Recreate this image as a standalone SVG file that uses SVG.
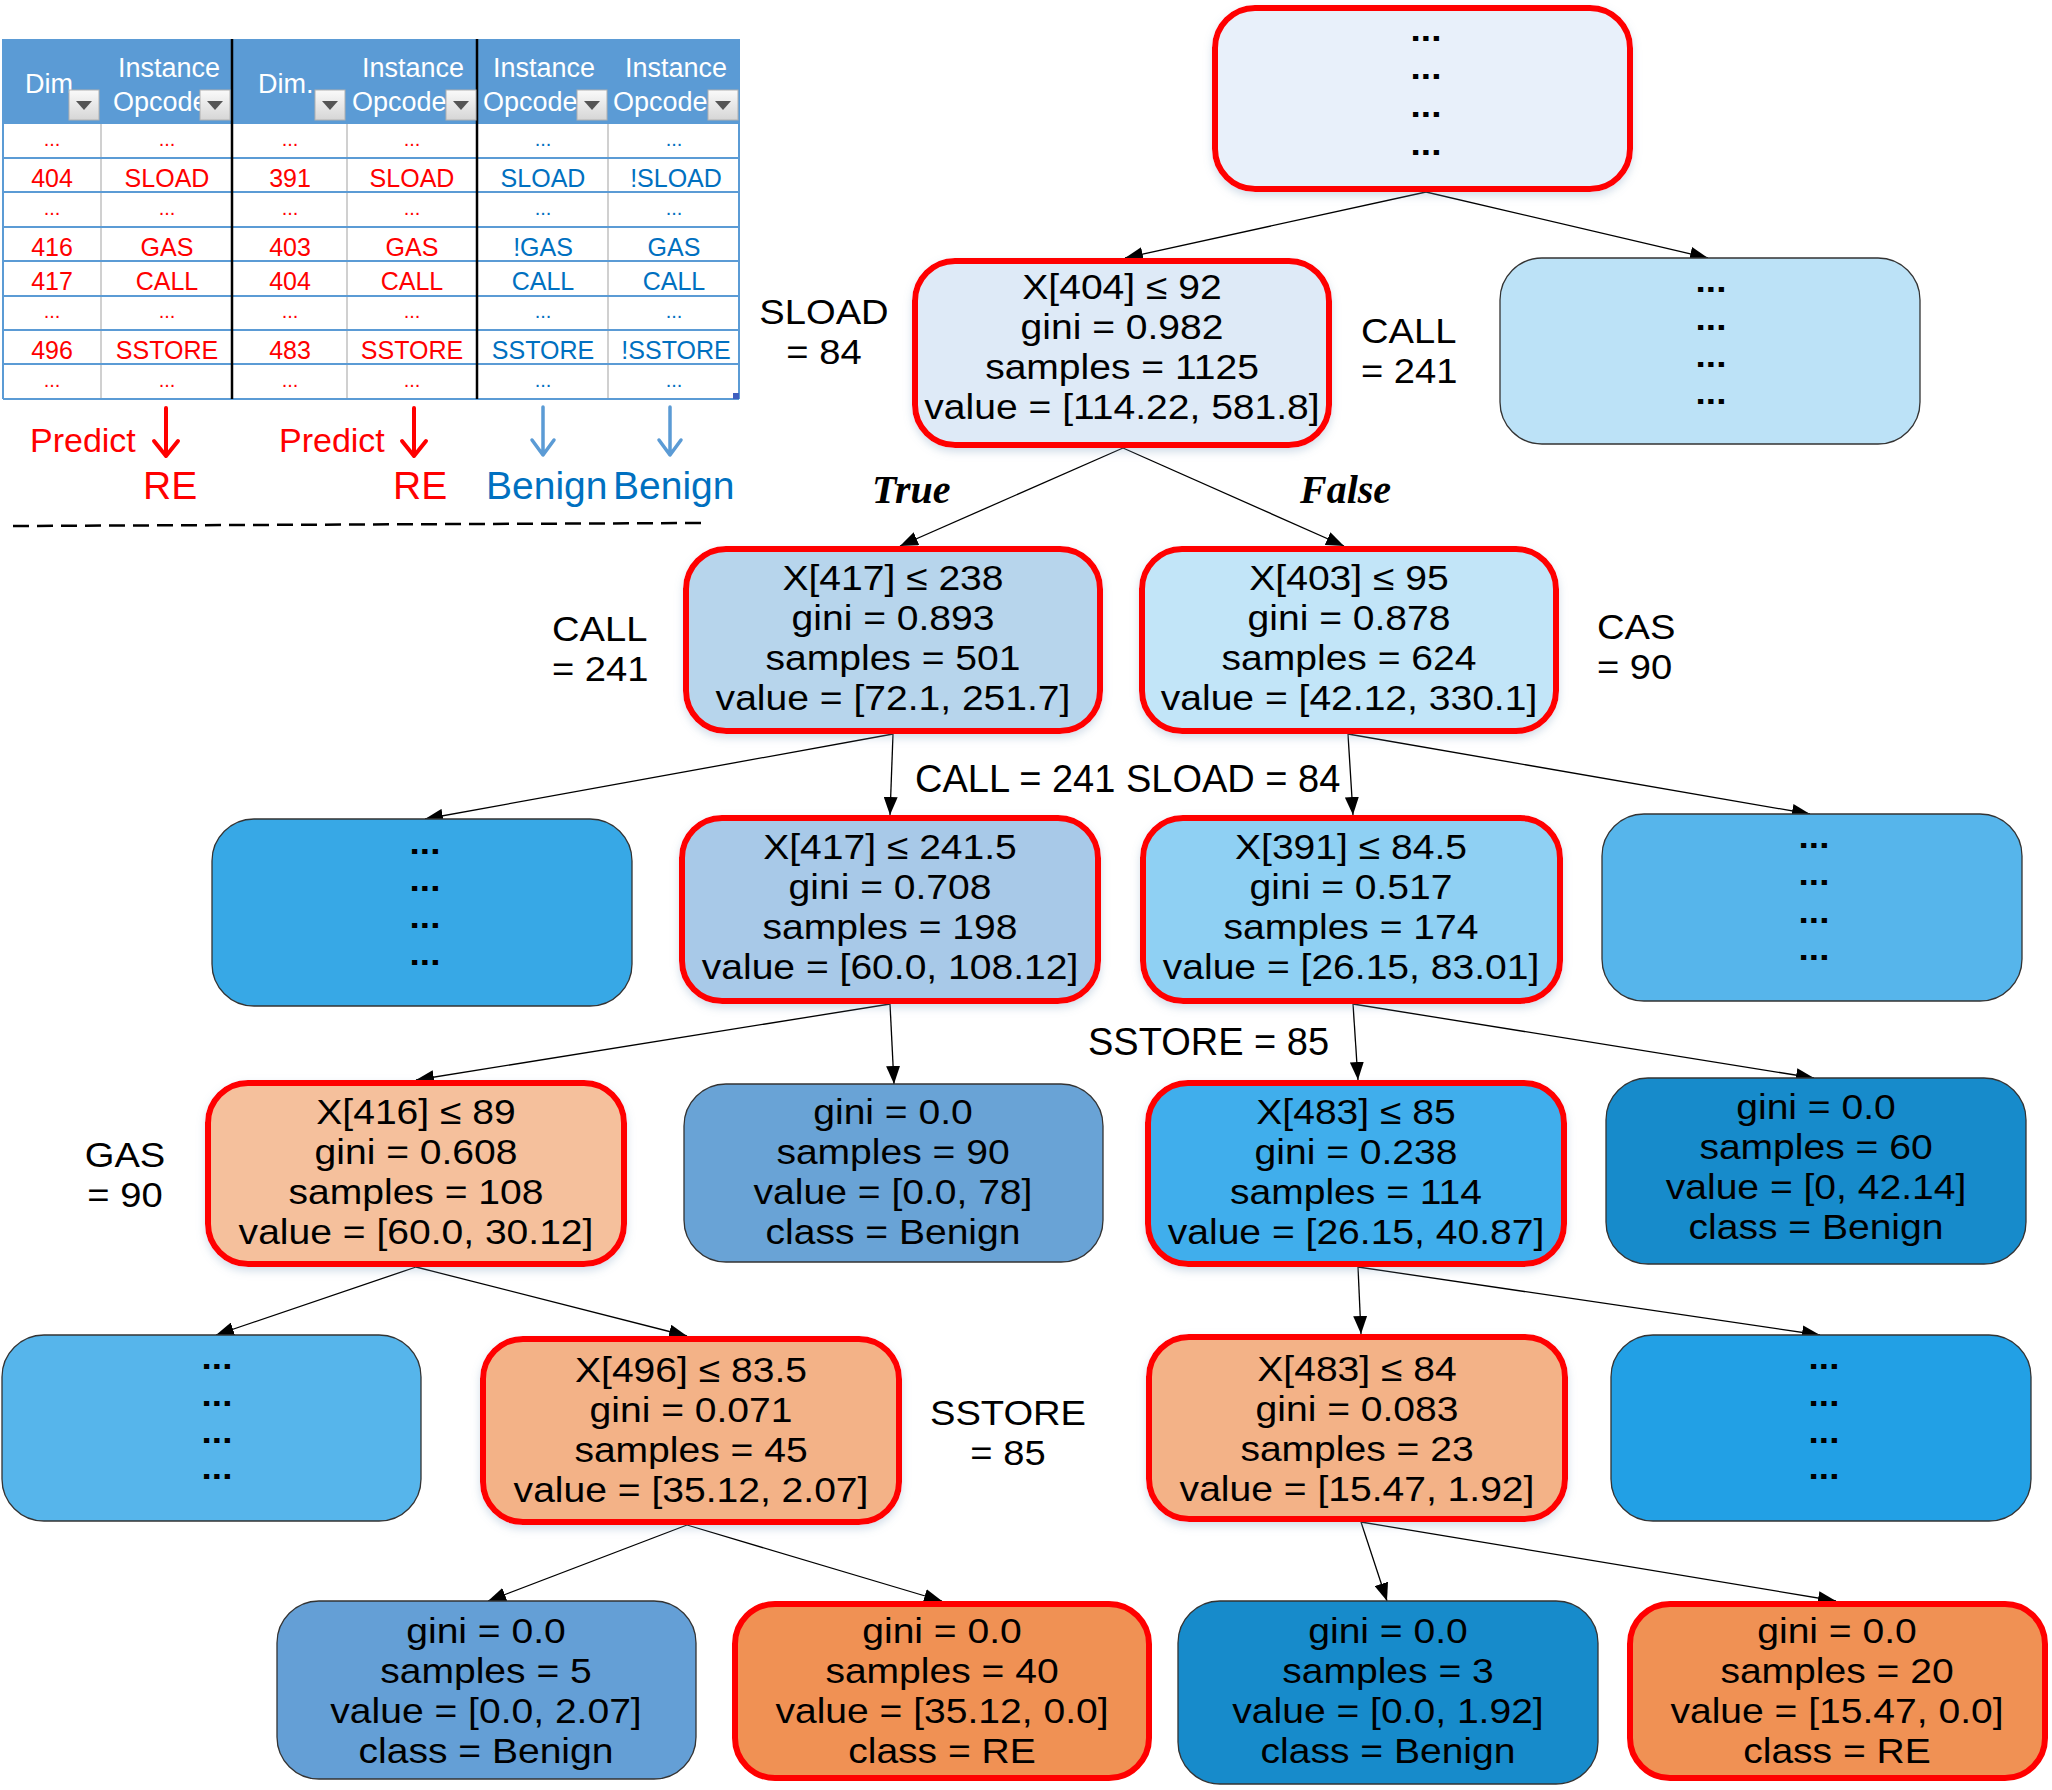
<svg xmlns="http://www.w3.org/2000/svg" width="2052" height="1790" viewBox="0 0 2052 1790">
<style>
.t{font-family:"Liberation Sans",Arial,sans-serif;font-size:35.5px;text-anchor:middle;fill:#000}
.d{font-family:"Liberation Sans",Arial,sans-serif;font-size:33px;font-weight:bold;text-anchor:middle;fill:#000}
.lb{font-family:"Liberation Sans",Arial,sans-serif;font-size:38px;fill:#000}
.l2{font-family:"Liberation Sans",Arial,sans-serif;font-size:35px;fill:#000}
.l2m{font-family:"Liberation Sans",Arial,sans-serif;font-size:35px;fill:#000;text-anchor:middle}
.tf{font-family:"Liberation Serif","Times New Roman",serif;font-size:40px;font-weight:bold;font-style:italic;fill:#000}
.nr{stroke:#FF0000;stroke-width:6}
.ng{stroke:#333;stroke-width:1.3}
.e{stroke:#000;stroke-width:1.3;fill:none;marker-end:url(#ah)}
.th{font-family:"Liberation Sans",Arial,sans-serif;font-size:27px;fill:#fff}
.tc{font-family:"Liberation Sans",Arial,sans-serif;font-size:25px;text-anchor:middle}
.tdot{font-family:"Liberation Sans",Arial,sans-serif;font-size:20px;text-anchor:middle}
.red{fill:#FF0000}
.blue{fill:#0070C0}
.hl{stroke:#5B9BD5;stroke-width:2}
.vg{stroke:#D0D0D0;stroke-width:2}
.vb{stroke:#000;stroke-width:2.5}
.pr{font-family:"Liberation Sans",Arial,sans-serif;font-size:34px;fill:#FF0000}
.big{font-family:"Liberation Sans",Arial,sans-serif;font-size:39px}
</style>
<defs>
<marker id="ah" markerUnits="userSpaceOnUse" markerWidth="20" markerHeight="14" refX="18" refY="7" orient="auto">
<path d="M0,0 L18,7 L0,14 z" fill="#000"/>
</marker>
<linearGradient id="btn" x1="0" y1="0" x2="0" y2="1">
<stop offset="0" stop-color="#FAFAFA"/>
<stop offset="1" stop-color="#D6D6D6"/>
</linearGradient>
<filter id="sh" x="-10%" y="-10%" width="120%" height="125%">
<feDropShadow dx="0" dy="4" stdDeviation="4" flood-color="#7F9FC0" flood-opacity="0.35"/>
</filter>
</defs>

<g id="table">
<rect x="3" y="39" width="736" height="84" fill="#5B9BD5"/>
<rect x="3" y="123" width="736" height="276" fill="#fff"/>
<g>
<line class="vg" x1="101" y1="123" x2="101" y2="399"/>
<line class="vg" x1="347" y1="123" x2="347" y2="399"/>
<line class="vg" x1="608" y1="123" x2="608" y2="399"/>
<line class="hl" x1="3" y1="123" x2="739" y2="123"/>
<line class="hl" x1="3" y1="158" x2="739" y2="158"/>
<line class="hl" x1="3" y1="192" x2="739" y2="192"/>
<line class="hl" x1="3" y1="227" x2="739" y2="227"/>
<line class="hl" x1="3" y1="261" x2="739" y2="261"/>
<line class="hl" x1="3" y1="296" x2="739" y2="296"/>
<line class="hl" x1="3" y1="330" x2="739" y2="330"/>
<line class="hl" x1="3" y1="364" x2="739" y2="364"/>
<line class="hl" x1="3" y1="399" x2="739" y2="399"/>
<line class="hl" x1="3" y1="39" x2="3" y2="399"/>
<line class="hl" x1="739" y1="39" x2="739" y2="399"/>
<line class="vb" x1="232" y1="39" x2="232" y2="399"/>
<line class="vb" x1="477" y1="39" x2="477" y2="399"/>
<rect x="733" y="393" width="6" height="6" fill="#3F5FBF"/>
</g>
<g>
<text class="th" x="25" y="93">Dim.</text>
<text class="th"><tspan x="118" y="77">Instance</tspan><tspan x="113" y="111">Opcode</tspan></text>
<text class="th" x="258" y="93">Dim.</text>
<text class="th"><tspan x="362" y="77">Instance</tspan><tspan x="352" y="111">Opcode</tspan></text>
<text class="th"><tspan x="493" y="77">Instance</tspan><tspan x="483" y="111">Opcode</tspan></text>
<text class="th"><tspan x="625" y="77">Instance</tspan><tspan x="613" y="111">Opcode</tspan></text>
</g>
<g>
<rect x="69" y="90" width="30" height="30" fill="url(#btn)" stroke="#B0B0B0" stroke-width="1"/>
<path d="M76,101 L92,101 L84,110 z" fill="#555"/>
<rect x="200" y="90" width="30" height="30" fill="url(#btn)" stroke="#B0B0B0" stroke-width="1"/>
<path d="M207,101 L223,101 L215,110 z" fill="#555"/>
<rect x="315" y="90" width="30" height="30" fill="url(#btn)" stroke="#B0B0B0" stroke-width="1"/>
<path d="M322,101 L338,101 L330,110 z" fill="#555"/>
<rect x="446" y="90" width="30" height="30" fill="url(#btn)" stroke="#B0B0B0" stroke-width="1"/>
<path d="M453,101 L469,101 L461,110 z" fill="#555"/>
<rect x="577" y="90" width="30" height="30" fill="url(#btn)" stroke="#B0B0B0" stroke-width="1"/>
<path d="M584,101 L600,101 L592,110 z" fill="#555"/>
<rect x="708" y="90" width="30" height="30" fill="url(#btn)" stroke="#B0B0B0" stroke-width="1"/>
<path d="M715,101 L731,101 L723,110 z" fill="#555"/>
</g>
<g class="red">
<text class="tdot" x="52" y="146">...</text><text class="tdot" x="167" y="146">...</text><text class="tdot" x="290" y="146">...</text><text class="tdot" x="412" y="146">...</text>
<text class="tc" x="52" y="187">404</text><text class="tc" x="167" y="187">SLOAD</text><text class="tc" x="290" y="187">391</text><text class="tc" x="412" y="187">SLOAD</text>
<text class="tdot" x="52" y="215">...</text><text class="tdot" x="167" y="215">...</text><text class="tdot" x="290" y="215">...</text><text class="tdot" x="412" y="215">...</text>
<text class="tc" x="52" y="256">416</text><text class="tc" x="167" y="256">GAS</text><text class="tc" x="290" y="256">403</text><text class="tc" x="412" y="256">GAS</text>
<text class="tc" x="52" y="290">417</text><text class="tc" x="167" y="290">CALL</text><text class="tc" x="290" y="290">404</text><text class="tc" x="412" y="290">CALL</text>
<text class="tdot" x="52" y="318">...</text><text class="tdot" x="167" y="318">...</text><text class="tdot" x="290" y="318">...</text><text class="tdot" x="412" y="318">...</text>
<text class="tc" x="52" y="359">496</text><text class="tc" x="167" y="359">SSTORE</text><text class="tc" x="290" y="359">483</text><text class="tc" x="412" y="359">SSTORE</text>
<text class="tdot" x="52" y="387">...</text><text class="tdot" x="167" y="387">...</text><text class="tdot" x="290" y="387">...</text><text class="tdot" x="412" y="387">...</text>
</g>
<g class="blue">
<text class="tdot" x="543" y="146">...</text><text class="tdot" x="674" y="146">...</text>
<text class="tc" x="543" y="187">SLOAD</text><text class="tc" x="676" y="187">!SLOAD</text>
<text class="tdot" x="543" y="215">...</text><text class="tdot" x="674" y="215">...</text>
<text class="tc" x="543" y="256">!GAS</text><text class="tc" x="674" y="256">GAS</text>
<text class="tc" x="543" y="290">CALL</text><text class="tc" x="674" y="290">CALL</text>
<text class="tdot" x="543" y="318">...</text><text class="tdot" x="674" y="318">...</text>
<text class="tc" x="543" y="359">SSTORE</text><text class="tc" x="676" y="359">!SSTORE</text>
<text class="tdot" x="543" y="387">...</text><text class="tdot" x="674" y="387">...</text>
</g>
</g>

<g id="predictions">
<text class="pr" x="30" y="452">Predict</text>
<text class="pr" x="279" y="452">Predict</text>
<g fill="none" stroke-linecap="round" stroke-linejoin="round">
<path d="M166,408 L166,456 M154,441 L166,456 L178,441" stroke="#FF0000" stroke-width="4"/>
<path d="M414,408 L414,456 M402,441 L414,456 L426,441" stroke="#FF0000" stroke-width="4"/>
<path d="M543,407 L543,455 M532,440 L543,455 L554,440" stroke="#5B9BD5" stroke-width="3.5"/>
<path d="M670,407 L670,455 M659,440 L670,455 L681,440" stroke="#5B9BD5" stroke-width="3.5"/>
</g>
<text class="big red" x="143" y="499">RE</text>
<text class="big red" x="393" y="499">RE</text>
<text class="big blue" x="486" y="499">Benign</text>
<text class="big blue" x="613" y="499">Benign</text>
<line x1="13" y1="526" x2="703" y2="523" stroke="#000" stroke-width="2.5" stroke-dasharray="16 8"/>
</g>

<g id="connectors">
<line class="e" x1="1426" y1="192" x2="1125" y2="258"/>
<line class="e" x1="1426" y1="192" x2="1708" y2="258"/>
<line class="e" x1="1123" y1="448" x2="900" y2="546"/>
<line class="e" x1="1123" y1="448" x2="1344" y2="546"/>
<line class="e" x1="893" y1="734" x2="425" y2="819"/>
<line class="e" x1="893" y1="734" x2="890" y2="815"/>
<line class="e" x1="1348" y1="734" x2="1353" y2="815"/>
<line class="e" x1="1348" y1="734" x2="1810" y2="814"/>
<line class="e" x1="890" y1="1004" x2="416" y2="1080"/>
<line class="e" x1="890" y1="1004" x2="894" y2="1084"/>
<line class="e" x1="1353" y1="1004" x2="1358" y2="1080"/>
<line class="e" x1="1353" y1="1004" x2="1814" y2="1078"/>
<line class="e" x1="416" y1="1267" x2="216" y2="1335"/>
<line class="e" x1="416" y1="1267" x2="687" y2="1336"/>
<line class="e" x1="1358" y1="1267" x2="1361" y2="1334"/>
<line class="e" x1="1358" y1="1267" x2="1820" y2="1335"/>
<line class="e" x1="687" y1="1525" x2="488" y2="1601"/>
<line class="e" x1="687" y1="1525" x2="942" y2="1601"/>
<line class="e" x1="1361" y1="1522" x2="1387" y2="1601"/>
<line class="e" x1="1361" y1="1522" x2="1836" y2="1601"/>
</g>

<g id="labels">
<text class="l2m" transform="translate(824 0) scale(1.09 1)"><tspan x="0" y="324">SLOAD</tspan><tspan x="0" y="364">= 84</tspan></text>
<text class="l2" transform="translate(1361 0) scale(1.09 1)"><tspan x="0" y="343">CALL</tspan><tspan x="0" y="383">= 241</tspan></text>
<text class="tf" x="872" y="503">True</text>
<text class="tf" x="1300" y="503">False</text>
<text class="l2" transform="translate(552 0) scale(1.09 1)"><tspan x="0" y="641.5">CALL</tspan><tspan x="0" y="681.5">= 241</tspan></text>
<text class="l2" transform="translate(1597 0) scale(1.09 1)"><tspan x="0" y="639">CAS</tspan><tspan x="0" y="679">= 90</tspan></text>
<text class="lb" x="915" y="792">CALL = 241 SLOAD = 84</text>
<text class="lb" x="1088" y="1055">SSTORE = 85</text>
<text class="l2m" transform="translate(125 0) scale(1.09 1)"><tspan x="0" y="1167">GAS</tspan><tspan x="0" y="1207">= 90</tspan></text>
<text class="l2m" transform="translate(1008 0) scale(1.09 1)"><tspan x="0" y="1425.5">SSTORE</tspan><tspan x="0" y="1465.5">= 85</tspan></text>
</g>

<g id="n-root">
<rect x="1215" y="8" width="415" height="181" rx="40" fill="#E8F0FA" class="nr" filter="url(#sh)"/>
<text class="d" transform="translate(1426 0) scale(1.12 1)"><tspan x="0" y="41">...</tspan><tspan x="0" y="79">...</tspan><tspan x="0" y="117">...</tspan><tspan x="0" y="155">...</tspan></text>
</g>
<g id="n-404">
<rect x="915" y="261" width="414" height="184" rx="40" fill="#DEEAF7" class="nr" filter="url(#sh)"/>
<text class="t" transform="translate(1122 0) scale(1.1 1)"><tspan x="0" y="299">X[404] ≤ 92</tspan><tspan x="0" y="339">gini = 0.982</tspan><tspan x="0" y="379">samples = 1125</tspan><tspan x="0" y="419">value = [114.22, 581.8]</tspan></text>
</g>
<g id="n-r1">
<rect x="1500" y="258" width="420" height="186" rx="42" fill="#BCE2F7" class="ng"/>
<text class="d" transform="translate(1711 0) scale(1.12 1)"><tspan x="0" y="292">...</tspan><tspan x="0" y="330">...</tspan><tspan x="0" y="367">...</tspan><tspan x="0" y="404">...</tspan></text>
</g>
<g id="n-417a">
<rect x="686" y="549" width="414" height="182" rx="40" fill="#B7D5EC" class="nr" filter="url(#sh)"/>
<text class="t" transform="translate(893 0) scale(1.1 1)"><tspan x="0" y="590.5">X[417] ≤ 238</tspan><tspan x="0" y="630.5">gini = 0.893</tspan><tspan x="0" y="670.5">samples = 501</tspan><tspan x="0" y="710.5">value = [72.1, 251.7]</tspan></text>
</g>
<g id="n-403">
<rect x="1142" y="549" width="414" height="182" rx="40" fill="#C2E5F8" class="nr" filter="url(#sh)"/>
<text class="t" transform="translate(1349 0) scale(1.1 1)"><tspan x="0" y="590.5">X[403] ≤ 95</tspan><tspan x="0" y="630.5">gini = 0.878</tspan><tspan x="0" y="670.5">samples = 624</tspan><tspan x="0" y="710.5">value = [42.12, 330.1]</tspan></text>
</g>
<g id="n-l3a">
<rect x="212" y="819" width="420" height="187" rx="42" fill="#37A8E6" class="ng"/>
<text class="d" transform="translate(425 0) scale(1.12 1)"><tspan x="0" y="854">...</tspan><tspan x="0" y="891">...</tspan><tspan x="0" y="928">...</tspan><tspan x="0" y="965">...</tspan></text>
</g>
<g id="n-417b">
<rect x="682" y="818" width="416" height="183" rx="40" fill="#A8C9E8" class="nr" filter="url(#sh)"/>
<text class="t" transform="translate(890 0) scale(1.1 1)"><tspan x="0" y="859.5">X[417] ≤ 241.5</tspan><tspan x="0" y="899.5">gini = 0.708</tspan><tspan x="0" y="939.5">samples = 198</tspan><tspan x="0" y="979.5">value = [60.0, 108.12]</tspan></text>
</g>
<g id="n-391">
<rect x="1143" y="818" width="417" height="183" rx="40" fill="#8FD0F3" class="nr" filter="url(#sh)"/>
<text class="t" transform="translate(1351 0) scale(1.1 1)"><tspan x="0" y="859.5">X[391] ≤ 84.5</tspan><tspan x="0" y="899.5">gini = 0.517</tspan><tspan x="0" y="939.5">samples = 174</tspan><tspan x="0" y="979.5">value = [26.15, 83.01]</tspan></text>
</g>
<g id="n-l3d">
<rect x="1602" y="814" width="420" height="187" rx="42" fill="#56B5EB" class="ng"/>
<text class="d" transform="translate(1814 0) scale(1.12 1)"><tspan x="0" y="848">...</tspan><tspan x="0" y="885">...</tspan><tspan x="0" y="923">...</tspan><tspan x="0" y="960">...</tspan></text>
</g>
<g id="n-416">
<rect x="208" y="1083" width="416" height="181" rx="40" fill="#F5C09C" class="nr" filter="url(#sh)"/>
<text class="t" transform="translate(416 0) scale(1.1 1)"><tspan x="0" y="1124.5">X[416] ≤ 89</tspan><tspan x="0" y="1164.5">gini = 0.608</tspan><tspan x="0" y="1204.5">samples = 108</tspan><tspan x="0" y="1244.5">value = [60.0, 30.12]</tspan></text>
</g>
<g id="n-leaf90">
<rect x="684" y="1084" width="419" height="178" rx="42" fill="#69A3D6" class="ng"/>
<text class="t" transform="translate(893 0) scale(1.1 1)"><tspan x="0" y="1124.5">gini = 0.0</tspan><tspan x="0" y="1164.5">samples = 90</tspan><tspan x="0" y="1204.5">value = [0.0, 78]</tspan><tspan x="0" y="1244.5">class = Benign</tspan></text>
</g>
<g id="n-483a">
<rect x="1148" y="1083" width="416" height="181" rx="40" fill="#40AEEC" class="nr" filter="url(#sh)"/>
<text class="t" transform="translate(1356 0) scale(1.1 1)"><tspan x="0" y="1124.5">X[483] ≤ 85</tspan><tspan x="0" y="1164.5">gini = 0.238</tspan><tspan x="0" y="1204.5">samples = 114</tspan><tspan x="0" y="1244.5">value = [26.15, 40.87]</tspan></text>
</g>
<g id="n-leaf60">
<rect x="1606" y="1078" width="420" height="186" rx="42" fill="#178BCB" class="ng"/>
<text class="t" transform="translate(1816 0) scale(1.1 1)"><tspan x="0" y="1119">gini = 0.0</tspan><tspan x="0" y="1159">samples = 60</tspan><tspan x="0" y="1199">value = [0, 42.14]</tspan><tspan x="0" y="1239">class = Benign</tspan></text>
</g>
<g id="n-l5a">
<rect x="2" y="1335" width="419" height="186" rx="42" fill="#56B5EB" class="ng"/>
<text class="d" transform="translate(217 0) scale(1.12 1)"><tspan x="0" y="1369">...</tspan><tspan x="0" y="1406">...</tspan><tspan x="0" y="1443">...</tspan><tspan x="0" y="1479">...</tspan></text>
</g>
<g id="n-496">
<rect x="483" y="1339" width="416" height="183" rx="40" fill="#F3B287" class="nr" filter="url(#sh)"/>
<text class="t" transform="translate(691 0) scale(1.1 1)"><tspan x="0" y="1382">X[496] ≤ 83.5</tspan><tspan x="0" y="1422">gini = 0.071</tspan><tspan x="0" y="1462">samples = 45</tspan><tspan x="0" y="1502">value = [35.12, 2.07]</tspan></text>
</g>
<g id="n-483b">
<rect x="1149" y="1337" width="416" height="182" rx="40" fill="#F3B287" class="nr" filter="url(#sh)"/>
<text class="t" transform="translate(1357 0) scale(1.1 1)"><tspan x="0" y="1381">X[483] ≤ 84</tspan><tspan x="0" y="1421">gini = 0.083</tspan><tspan x="0" y="1461">samples = 23</tspan><tspan x="0" y="1501">value = [15.47, 1.92]</tspan></text>
</g>
<g id="n-l5d">
<rect x="1611" y="1335" width="420" height="186" rx="42" fill="#22A0E5" class="ng"/>
<text class="d" transform="translate(1824 0) scale(1.12 1)"><tspan x="0" y="1369">...</tspan><tspan x="0" y="1406">...</tspan><tspan x="0" y="1443">...</tspan><tspan x="0" y="1479">...</tspan></text>
</g>
<g id="n-leaf5">
<rect x="277" y="1601" width="419" height="178" rx="42" fill="#649FD6" class="ng"/>
<text class="t" transform="translate(486 0) scale(1.1 1)"><tspan x="0" y="1643.5">gini = 0.0</tspan><tspan x="0" y="1683.5">samples = 5</tspan><tspan x="0" y="1723.5">value = [0.0, 2.07]</tspan><tspan x="0" y="1763.5">class = Benign</tspan></text>
</g>
<g id="n-leaf40">
<rect x="735" y="1604" width="414" height="174" rx="40" fill="#F09154" class="nr"/>
<text class="t" transform="translate(942 0) scale(1.1 1)"><tspan x="0" y="1643.5">gini = 0.0</tspan><tspan x="0" y="1683.5">samples = 40</tspan><tspan x="0" y="1723.5">value = [35.12, 0.0]</tspan><tspan x="0" y="1763.5">class = RE</tspan></text>
</g>
<g id="n-leaf3">
<rect x="1178" y="1601" width="420" height="183" rx="42" fill="#178BCB" class="ng"/>
<text class="t" transform="translate(1388 0) scale(1.1 1)"><tspan x="0" y="1643.5">gini = 0.0</tspan><tspan x="0" y="1683.5">samples = 3</tspan><tspan x="0" y="1723.5">value = [0.0, 1.92]</tspan><tspan x="0" y="1763.5">class = Benign</tspan></text>
</g>
<g id="n-leaf20">
<rect x="1630" y="1604" width="415" height="174" rx="40" fill="#F09154" class="nr"/>
<text class="t" transform="translate(1837 0) scale(1.1 1)"><tspan x="0" y="1643.5">gini = 0.0</tspan><tspan x="0" y="1683.5">samples = 20</tspan><tspan x="0" y="1723.5">value = [15.47, 0.0]</tspan><tspan x="0" y="1763.5">class = RE</tspan></text>
</g>
</svg>
